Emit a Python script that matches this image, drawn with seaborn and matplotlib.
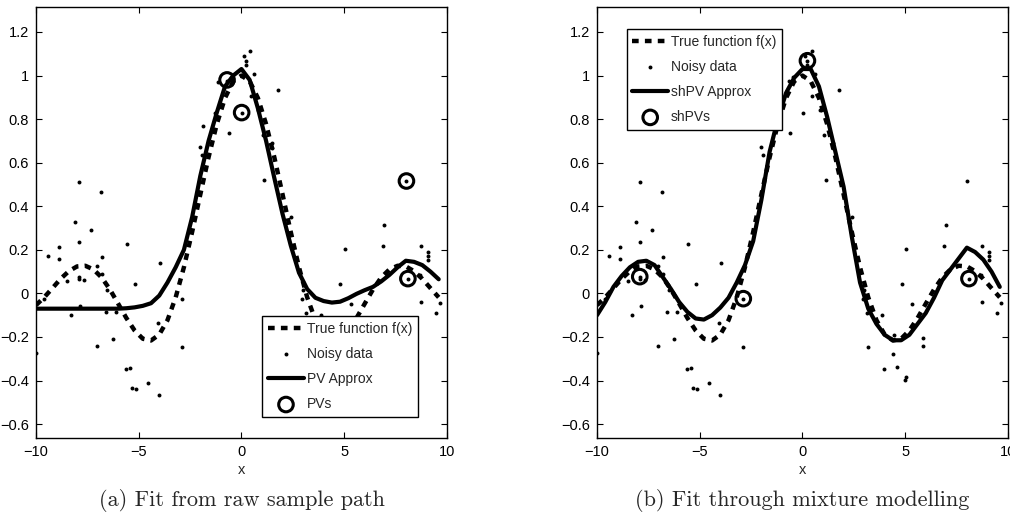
import seaborn as sns
import pandas as pd
import numpy as np
import matplotlib.pyplot as plt

# grid on which the curves were drawn
x_grid = [-10.0, -9.6, -9.2, -8.8, -8.4, -8.0, -7.6, -7.2, -6.8, -6.4,
          -6.0, -5.6, -5.2, -4.8, -4.4, -4.0, -3.6, -3.2, -2.8, -2.4,
          -2.0, -1.6, -1.2, -0.8, -0.4, 0.0, 0.4, 0.8, 1.2, 1.6,
          2.0, 2.4, 2.8, 3.2, 3.6, 4.0, 4.4, 4.8, 5.2, 5.6,
          6.0, 6.4, 6.8, 7.2, 7.6, 8.0, 8.4, 8.8, 9.2, 9.6]

# true function f(x)
true_f = [-0.054, -0.018, 0.024, 0.067, 0.102, 0.124, 0.127, 0.110, 0.073, 0.018,
          -0.047, -0.113, -0.170, -0.208, -0.216, -0.189, -0.123, -0.018, 0.120, 0.282,
          0.455, 0.625, 0.777, 0.897, 0.974, 1.000, 0.974, 0.897, 0.777, 0.625,
          0.455, 0.282, 0.120, -0.018, -0.123, -0.189, -0.216, -0.208, -0.170, -0.113,
          -0.047, 0.018, 0.073, 0.110, 0.127, 0.124, 0.102, 0.067, 0.024, -0.018]

# (a) PV approximation
pv_approx = [-0.070, -0.070, -0.070, -0.070, -0.070, -0.070, -0.070, -0.070, -0.070, -0.070,
             -0.070, -0.068, -0.064, -0.057, -0.045, -0.010, 0.050, 0.120, 0.200, 0.350,
             0.540, 0.700, 0.830, 0.950, 1.000, 1.030, 0.980, 0.850, 0.700, 0.530,
             0.365, 0.220, 0.095, 0.020, -0.020, -0.035, -0.042, -0.038, -0.022, -0.002,
             0.015, 0.030, 0.055, 0.085, 0.120, 0.150, 0.145, 0.130, 0.100, 0.065]

# (b) shPV approximation
shpv_approx = [-0.100, -0.040, 0.030, 0.080, 0.120, 0.145, 0.150, 0.130, 0.075, 0.020,
               -0.040, -0.085, -0.115, -0.120, -0.100, -0.065, -0.020, 0.050, 0.130, 0.240,
               0.430, 0.650, 0.800, 0.920, 0.990, 1.030, 1.030, 0.950, 0.810, 0.650,
               0.490, 0.260, 0.050, -0.070, -0.140, -0.190, -0.215, -0.215, -0.190, -0.140,
               -0.090, -0.020, 0.060, 0.110, 0.160, 0.210, 0.190, 0.155, 0.100, 0.030]

# noisy samples (same in both panels)
noisy_x = [-10.0, -9.59, -9.4, -8.86, -8.86, -8.51, -8.28, -8.08, -7.92, -7.92,
           -7.92, -7.90, -7.85, -7.67, -7.30, -7.05, -7.03, -6.84, -6.80, -6.77,
           -6.60, -6.52, -6.23, -6.09, -5.61, -5.58, -5.41, -5.32, -5.20, -5.12,
           -4.54, -4.05, -4.01, -3.98, -2.88, -2.88, -2.03, -1.90, -1.85, -1.30,
           -1.15, -0.68, -0.62, -0.44, 0.01, 0.11, 0.20, 0.24, 0.44, 0.47,
           0.60, 0.83, 1.06, 1.12, 1.50, 1.50, 1.78, 2.41, 2.93, 2.98,
           3.12, 3.21, 3.87, 3.95, 4.40, 4.43, 4.60, 4.82, 4.97, 5.04,
           5.06, 5.33, 5.85, 5.85, 6.90, 6.96, 8.03, 8.10, 8.68, 8.73,
           8.75, 9.07, 9.07, 9.07, 9.45, 9.68]
noisy_y = [-0.274, -0.027, 0.173, 0.213, 0.158, 0.057, -0.097, 0.330, 0.511, 0.077,
           0.065, 0.234, -0.056, 0.060, 0.290, 0.128, -0.241, 0.467, 0.089, 0.168,
           -0.083, 0.018, -0.210, -0.086, -0.348, 0.229, -0.343, -0.432, 0.042, -0.440,
           -0.412, -0.137, -0.464, 0.138, -0.024, -0.244, 0.673, 0.636, 0.770, 0.830,
           0.970, 0.976, 0.735, 0.995, 0.830, 1.088, 1.050, 1.068, 1.114, 0.906,
           1.008, 0.842, 0.726, 0.519, 0.690, 0.666, 0.933, 0.351, -0.025, 0.018,
           -0.088, -0.244, -0.101, -0.348, -0.279, -0.190, -0.339, 0.041, -0.397, -0.384,
           0.205, -0.049, -0.206, -0.241, 0.216, 0.313, 0.516, 0.068, 0.084, 0.216,
           -0.040, 0.190, 0.170, 0.155, -0.088, -0.043]

# selected points
pv_x = [-0.70, 0.01, 8.03, 8.10]
pv_y = [0.980, 0.830, 0.516, 0.068]
shpv_x = [-7.92, -2.88, 0.24, 8.10]
shpv_y = [0.077, -0.024, 1.068, 0.068]

y_ticks = [-0.6, -0.4, -0.2, 0, 0.2, 0.4, 0.6, 0.8, 1, 1.2]
y_tick_labels = ["\u22120.6", "\u22120.4", "\u22120.2", "0", "0.2", "0.4", "0.6", "0.8", "1", "1.2"]
x_ticks = [-10, -5, 0, 5, 10]
x_tick_labels = ["\u221210", "\u22125", "0", "5", "10"]

sns.set_theme(style="white")
plt.rcParams['font.family'] = ['Liberation Sans Narrow', 'Liberation Sans', 'DejaVu Sans']
plt.rcParams['xtick.direction'] = 'in'
plt.rcParams['ytick.direction'] = 'in'
plt.rcParams['axes.edgecolor'] = 'black'

curves = pd.DataFrame({"x": x_grid, "f": true_f, "pv": pv_approx, "shpv": shpv_approx})
noisy = pd.DataFrame({"x": noisy_x, "y": noisy_y})

fig = plt.figure(figsize=(10.1, 5.2), dpi=100)
ax_a = fig.add_axes([0.0356, 0.1571, 0.4069, 0.830])
ax_b = fig.add_axes([0.5911, 0.1571, 0.4069, 0.830])


def draw_panel(ax, fit_col, fit_label, sel_x, sel_y, sel_label):
    sns.lineplot(data=curves, x="x", y="f", ax=ax, color="black", lw=3.2,
                 linestyle=(0, (1.5, 1.4)), dash_capstyle="butt",
                 label="True function f(x)", sort=False, estimator=None)
    sns.scatterplot(data=noisy, x="x", y="y", ax=ax, color="black", s=8,
                    linewidth=0, label="Noisy data")
    sns.lineplot(data=curves, x="x", y=fit_col, ax=ax, color="black", lw=3.0,
                 label=fit_label, sort=False, estimator=None)
    sns.scatterplot(x=sel_x, y=sel_y, ax=ax, marker="o", s=110, facecolor="none",
                    edgecolor="black", linewidth=2.2, label=sel_label)

    ax.set_xlim(-10, 10)
    ax.set_ylim(-0.665, 1.316)
    ax.set_xticks(x_ticks)
    ax.set_xticklabels(x_tick_labels)
    ax.set_yticks(y_ticks)
    ax.set_yticklabels(y_tick_labels)
    ax.tick_params(axis="both", which="both", direction="in", length=4, width=0.8,
                   top=True, right=True, bottom=True, left=True, labelsize=10.5,
                   color="black", labelcolor="black", pad=5)
    for sp in ax.spines.values():
        sp.set_color("black")
        sp.set_linewidth(1.0)
    ax.set_xlabel("x", fontsize=10.5, labelpad=3)
    ax.set_ylabel("")


draw_panel(ax_a, "pv", "PV Approx", pv_x, pv_y, "PVs")
draw_panel(ax_b, "shpv", "shPV Approx", shpv_x, shpv_y, "shPVs")

leg_kw = dict(fontsize=10, frameon=True, fancybox=False, framealpha=1,
              edgecolor="black", handlelength=2.6, handletextpad=0.2,
              labelspacing=0.8, borderpad=0.4, borderaxespad=0)
leg_a = ax_a.legend(loc="lower right", bbox_to_anchor=(0.929, 0.05), **leg_kw)
leg_b = ax_b.legend(loc="upper left", bbox_to_anchor=(0.072, 0.948), **leg_kw)
for leg in (leg_a, leg_b):
    leg.get_frame().set_linewidth(1.0)

fig.text(0.0356 + 0.4069 / 2, 0.038, "(a) Fit from raw sample path",
         ha="center", va="center", fontsize=16, family="cmr10")
fig.text(0.5911 + 0.4069 / 2, 0.038, "(b) Fit through mixture modelling",
         ha="center", va="center", fontsize=16, family="cmr10")

fig.savefig("out.png", dpi=100)
